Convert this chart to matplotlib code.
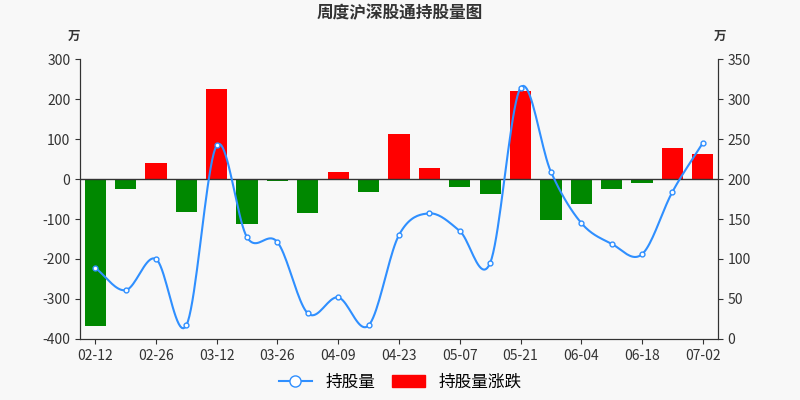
import matplotlib
matplotlib.use("Agg")
import matplotlib.pyplot as plt
from matplotlib.lines import Line2D
from matplotlib.patches import Patch
import numpy as np

plt.rcParams["font.family"] = ["Noto Sans CJK SC", "DejaVu Sans"]
plt.rcParams["axes.unicode_minus"] = False

BG = "#F8F8F8"
AXIS = "#333333"

weeks = ["02-12", "02-19", "02-26", "03-05", "03-12", "03-19", "03-26", "04-02",
         "04-09", "04-16", "04-23", "04-30", "05-07", "05-14", "05-21", "05-28",
         "06-04", "06-11", "06-18", "06-25", "07-02"]
change = [-368, -25, 40, -82, 226, -112, -5, -85, 18, -33, 113, 27, -20, -38,
          220, -103, -63, -25, -10, 78, 62]
holding = [89, 61, 100, 17, 242, 127, 121, 32, 52, 17, 130, 157, 135, 95,
           314, 209, 145, 119, 106, 184, 245]


def smooth(x, y, n=20):
    # Catmull-Rom spline through the points, for the curved line only
    x = np.asarray(x, float); y = np.asarray(y, float)
    px = np.concatenate([[2 * x[0] - x[1]], x, [2 * x[-1] - x[-2]]])
    py = np.concatenate([[2 * y[0] - y[1]], y, [2 * y[-1] - y[-2]]])
    xs, ys = [], []
    t = np.linspace(0, 1, n, endpoint=False)
    for i in range(1, len(px) - 2):
        for p, out in ((px, xs), (py, ys)):
            p0, p1, p2, p3 = p[i - 1], p[i], p[i + 1], p[i + 2]
            out.extend(0.5 * (2 * p1 + (-p0 + p2) * t + (2 * p0 - 5 * p1 + 4 * p2 - p3) * t ** 2
                              + (-p0 + 3 * p1 - 3 * p2 + p3) * t ** 3))
    xs.append(x[-1]); ys.append(y[-1])
    return np.array(xs), np.array(ys)


fig = plt.figure(figsize=(8, 4), dpi=100, facecolor=BG)
ax = fig.add_axes([0.1, 0.1525, 0.7975, 0.7])
ax.set_facecolor(BG)
x = np.arange(len(weeks))
colors = ["#FF0000" if v >= 0 else "#008800" for v in change]
ax.bar(x, change, width=0.7, color=colors, zorder=2)
ax.set_ylim(-400, 300)
ax.set_yticks(range(-400, 301, 100))
ax.set_xlim(-0.5, len(weeks) - 0.5)
ax.set_xticks(x[::2])
ax.set_xticklabels(weeks[::2])
ax.axhline(0, color=AXIS, lw=1, zorder=3)
for s in ["top"]:
    ax.spines[s].set_visible(False)
for s in ["left", "right", "bottom"]:
    ax.spines[s].set_color(AXIS)
ax.tick_params(colors=AXIS, labelsize=10)

ax2 = ax.twinx()
ax2.set_ylim(0, 350)
ax2.set_yticks(range(0, 351, 50))
ax2.spines["top"].set_visible(False)
for s in ["left", "right", "bottom"]:
    ax2.spines[s].set_color(AXIS)
ax2.tick_params(colors=AXIS, labelsize=10)
sx, sy = smooth(x, holding)
ax2.plot(sx, sy, color="#2F8FFF", lw=1.5, zorder=4)
ax2.plot(x, holding, "o", ms=3.5, mfc="white", mec="#2F8FFF", mew=1, zorder=5)

fig.text(0.1, 0.9, "万", ha="right", fontsize=9, fontweight="bold", color=AXIS)
fig.text(0.9, 0.9, "万", ha="center", fontsize=9, fontweight="bold", color=AXIS)
fig.text(0.5, 0.955, "周度沪深股通持股量图", ha="center", fontsize=12, fontweight="bold", color=AXIS)

handles = [Line2D([], [], color="#2F8FFF", marker="o", mfc="white", ms=8, lw=1.5),
           Patch(color="#FF0000")]
fig.legend(handles, ["持股量", "持股量涨跌"], loc="lower center", ncol=2, frameon=False,
           fontsize=12, bbox_to_anchor=(0.5, -0.015), handlelength=2, columnspacing=1)
fig.savefig("out.png", facecolor=BG)
